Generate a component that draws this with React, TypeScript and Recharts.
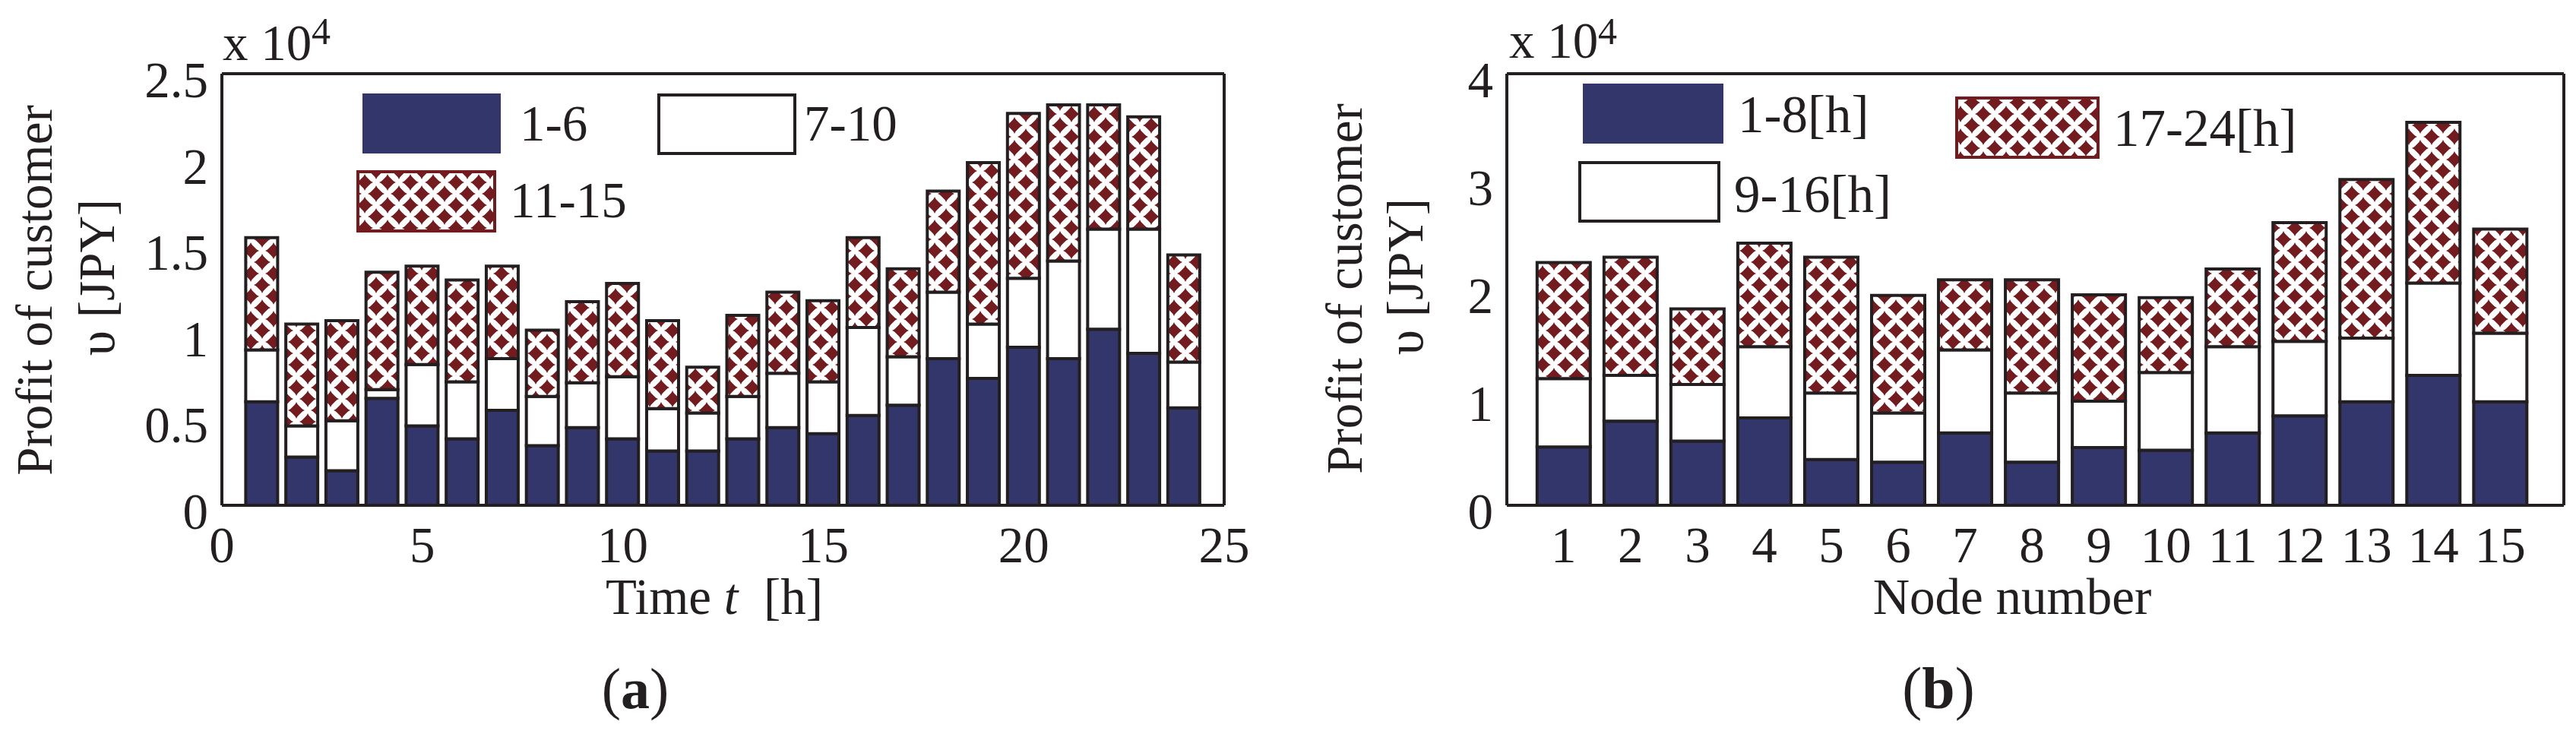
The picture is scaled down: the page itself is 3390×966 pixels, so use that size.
import React from 'react';
import { BarChart, Bar, XAxis, YAxis } from 'recharts';

// values are in units of 10^4 JPY
const hours = [1, 2, 3, 4, 5, 6, 7, 8, 9, 10, 11, 12, 13, 14, 15, 16, 17, 18, 19, 20, 21, 22, 23, 24];
const hourEarly = [0.6, 0.28, 0.2, 0.62, 0.46, 0.385, 0.55, 0.345, 0.45, 0.385, 0.315, 0.315, 0.385, 0.45, 0.415, 0.52, 0.58, 0.85, 0.735, 0.915, 0.85, 1.02, 0.88, 0.565];
const hourMid = [0.3, 0.18, 0.29, 0.05, 0.355, 0.33, 0.3, 0.285, 0.26, 0.36, 0.245, 0.22, 0.245, 0.315, 0.3, 0.51, 0.28, 0.385, 0.315, 0.4, 0.565, 0.58, 0.72, 0.265];
const hourLate = [0.65, 0.59, 0.58, 0.68, 0.57, 0.59, 0.535, 0.385, 0.47, 0.54, 0.51, 0.265, 0.47, 0.47, 0.47, 0.52, 0.51, 0.585, 0.935, 0.955, 0.905, 0.72, 0.65, 0.62];

const nodes = [1, 2, 3, 4, 5, 6, 7, 8, 9, 10, 11, 12, 13, 14, 15];
const nodeNight = [0.54, 0.78, 0.595, 0.81, 0.425, 0.4, 0.67, 0.4, 0.535, 0.51, 0.67, 0.83, 0.96, 1.205, 0.96];
const nodeDay = [0.635, 0.425, 0.525, 0.66, 0.615, 0.455, 0.77, 0.64, 0.43, 0.72, 0.8, 0.69, 0.59, 0.855, 0.635];
const nodeEvening = [1.075, 1.095, 0.7, 0.96, 1.26, 1.09, 0.65, 1.05, 0.985, 0.695, 0.72, 1.1, 1.47, 1.49, 0.965];

const hourSeries = ['1-6', '7-10', '11-15'];
const nodeSeries = ['1-8[h]', '9-16[h]', '17-24[h]'];

const hourXTicks = [0, 5, 10, 15, 20, 25];
const hourYTicks = [0, 0.5, 1, 1.5, 2, 2.5];
const nodeYTicks = [0, 0.5, 1, 1.5, 2, 2.5, 3, 3.5, 4];

const INK = '#231f20';
const NAVY = '#32366a';
const WINE = '#731c20';
const FONT = '"Liberation Serif", "Times New Roman", serif';
const FS = 67;

const segStyles = [
  { fill: NAVY, swatchStroke: 'none' },
  { fill: '#ffffff', swatchStroke: INK },
  { fill: 'url(#weave)', swatchStroke: WINE },
];

const hourLegendBoxes = [
  { x: 477, y: 123, w: 182, h: 79, tx: 684, ty: 185 },
  { x: 867, y: 125, w: 179, h: 77, tx: 1058, ty: 185 },
  { x: 471, y: 226, w: 180, h: 78, tx: 671, ty: 286 },
];
const nodeLegendBoxes = [
  { x: 2083, y: 110, w: 185, h: 79, tx: 2287, ty: 174 },
  { x: 2079, y: 214, w: 183, h: 77, tx: 2282, ty: 279 },
  { x: 2575, y: 129, w: 186, h: 78, tx: 2781, ty: 192 },
];

if (typeof document !== 'undefined') document.body.style.margin = '0';

const hourData = hours.map((h, i) => ({ x: h, a: hourEarly[i], b: hourMid[i], c: hourLate[i] }));
const nodeData = nodes.map((n, i) => ({ x: n, a: nodeNight[i], b: nodeDay[i], c: nodeEvening[i] }));

function XTick(props: any) {
  const { x, y, payload } = props;
  return (
    <text x={x} y={y + 75} textAnchor="middle" fontFamily={FONT} fontSize={FS} fill={INK}>
      {payload.value}
    </text>
  );
}

function YTick(props: any) {
  const { x, y, payload, onlyWhole } = props;
  const v = payload.value as number;
  if (onlyWhole && !Number.isInteger(v)) return <g />;
  return (
    <text x={x - 18} y={y + 31} textAnchor="end" fontFamily={FONT} fontSize={FS} fill={INK}>
      {String(v)}
    </text>
  );
}

interface PanelProps {
  data: { x: number; a: number; b: number; c: number }[];
  left: number;
  width: number;
  margin: { top: number; right: number; bottom: number; left: number };
  xDomain: [number, number];
  xTicks: number[];
  yDomain: [number, number];
  yTicks: number[];
  onlyWhole?: boolean;
  barSize: number;
}

function Panel({ data, left, width, margin, xDomain, xTicks, yDomain, yTicks, onlyWhole, barSize }: PanelProps) {
  const line = { stroke: INK, strokeWidth: 4 };
  const tick = { stroke: INK, strokeWidth: 3 };
  return (
    <div style={{ position: 'absolute', left, top: 0 }}>
      <BarChart width={width} height={966} data={data} margin={margin} barSize={barSize}>
        <XAxis xAxisId="x" dataKey="x" type="number" domain={xDomain} ticks={xTicks} interval={0}
          allowDataOverflow axisLine={line} tickLine={false} tickSize={0} tickMargin={0} height={60} tick={<XTick />} />
        <XAxis xAxisId="xb" dataKey="x" type="number" domain={xDomain} ticks={xTicks} interval={0}
          allowDataOverflow mirror axisLine={false} tick={false} tickLine={tick} tickSize={14} />
        <XAxis xAxisId="xt" dataKey="x" type="number" orientation="top" domain={xDomain} ticks={xTicks} interval={0}
          allowDataOverflow mirror axisLine={line} tick={false} tickLine={tick} tickSize={14} />
        <YAxis yAxisId="y" type="number" domain={yDomain} ticks={yTicks} interval={0} allowDataOverflow
          axisLine={line} tickLine={false} tickSize={0} tickMargin={0} width={120} tick={<YTick onlyWhole={onlyWhole} />} />
        <YAxis yAxisId="ym" type="number" domain={yDomain} ticks={yTicks} interval={0} allowDataOverflow
          mirror axisLine={false} tick={false} tickLine={tick} tickSize={14} />
        <YAxis yAxisId="yr" type="number" orientation="right" domain={yDomain} ticks={yTicks} interval={0} allowDataOverflow
          mirror axisLine={line} tick={false} tickLine={tick} tickSize={14} />
        {(['a', 'b', 'c'] as const).map((k, i) => (
          <Bar key={k} dataKey={k} stackId="s" xAxisId="x" yAxisId="y" fill={segStyles[i].fill}
            stroke={INK} strokeWidth={4} isAnimationActive={false} />
        ))}
      </BarChart>
    </div>
  );
}

function Legend({ names, boxes, size }: { names: string[]; boxes: typeof hourLegendBoxes; size: number }) {
  return (
    <g>
      {names.map((n, i) => (
        <g key={n}>
          <rect x={boxes[i].x} y={boxes[i].y} width={boxes[i].w} height={boxes[i].h}
            fill={segStyles[i].fill} stroke={segStyles[i].swatchStroke} strokeWidth={4} />
          <text x={boxes[i].tx} y={boxes[i].ty} fontFamily={FONT} fontSize={size} fill={INK}>{n}</text>
        </g>
      ))}
    </g>
  );
}

// red blobs on white, offset rows, like the printed hatch
function WeavePattern() {
  const blob = (cx: number, cy: number) =>
    `M${cx - 11},${cy} L${cx - 3.5},${cy - 3.5} L${cx},${cy - 11} L${cx + 3.5},${cy - 3.5} L${cx + 11},${cy} L${cx + 3.5},${cy + 3.5} L${cx},${cy + 11} L${cx - 3.5},${cy + 3.5} Z`;
  const diamond = (cx: number, cy: number) =>
    `M${cx - 9.5},${cy} L${cx},${cy - 9.5} L${cx + 9.5},${cy} L${cx},${cy + 9.5} Z`;
  const centres = [[0, 0], [30, 0], [0, 30], [30, 30], [15, 15]];
  return (
    <pattern id="weave" patternUnits="userSpaceOnUse" width={30} height={30}>
      <rect width={30} height={30} fill="#ffffff" />
      {centres.map(([cx, cy]) => (
        <g key={`${cx}-${cy}`} fill={WINE}>
          <path d={blob(cx, cy)} />
          <path d={diamond(cx, cy)} />
        </g>
      ))}
    </pattern>
  );
}

function Overlay() {
  const t = { fontFamily: FONT, fill: INK };
  return (
    <svg width={3390} height={966} style={{ position: 'absolute', left: 0, top: 0, pointerEvents: 'none' }}>
      <defs>
        <WeavePattern />
      </defs>

      {/* panel (a) */}
      <text x={293} y={79} fontSize={FS} {...t}>x 10</text>
      <text x={410} y={58} fontSize={50} {...t}>4</text>
      <text transform="translate(68 382) rotate(-90)" textAnchor="middle" fontSize={FS} {...t}>Profit of customer</text>
      <text transform="translate(150 365) rotate(-90)" textAnchor="middle" fontSize={FS} {...t}>υ [JPY]</text>
      <text x={940} y={808} textAnchor="middle" fontSize={FS} {...t} xmlSpace="preserve">
        Time <tspan fontStyle="italic">t</tspan>{'  '}[h]
      </text>
      <text x={836} y={932} textAnchor="middle" fontSize={76} {...t}>
        (<tspan fontWeight="bold">a</tspan>)
      </text>
      <Legend names={hourSeries} boxes={hourLegendBoxes} size={FS} />

      {/* panel (b) */}
      <text x={1986} y={76} fontSize={FS} {...t}>x 10</text>
      <text x={2103} y={58} fontSize={50} {...t}>4</text>
      <text transform="translate(1792 380) rotate(-90)" textAnchor="middle" fontSize={FS} {...t}>Profit of customer</text>
      <text transform="translate(1872 364) rotate(-90)" textAnchor="middle" fontSize={FS} {...t}>υ [JPY]</text>
      <text x={2648} y={808} textAnchor="middle" fontSize={FS} {...t}>Node number</text>
      <text x={2551} y={932} textAnchor="middle" fontSize={78} {...t}>
        (<tspan fontWeight="bold">b</tspan>)
      </text>
      <Legend names={nodeSeries} boxes={nodeLegendBoxes} size={69} />
    </svg>
  );
}

export default function App() {
  return (
    <div style={{ position: 'relative', width: 3390, height: 966, background: '#ffffff', overflow: 'hidden' }}>
      <Panel data={hourData} left={0} width={1700}
        margin={{ top: 97, right: 89, bottom: 241, left: 172 }}
        xDomain={[0, 25]} xTicks={hourXTicks} yDomain={[0, 2.5]} yTicks={hourYTicks} barSize={42} />
      <Panel data={nodeData} left={1700} width={1690}
        margin={{ top: 97, right: 16, bottom: 241, left: 163 }}
        xDomain={[0.15, 15.95]} xTicks={nodes} yDomain={[0, 4]} yTicks={nodeYTicks} onlyWhole barSize={70} />
      <Overlay />
    </div>
  );
}
